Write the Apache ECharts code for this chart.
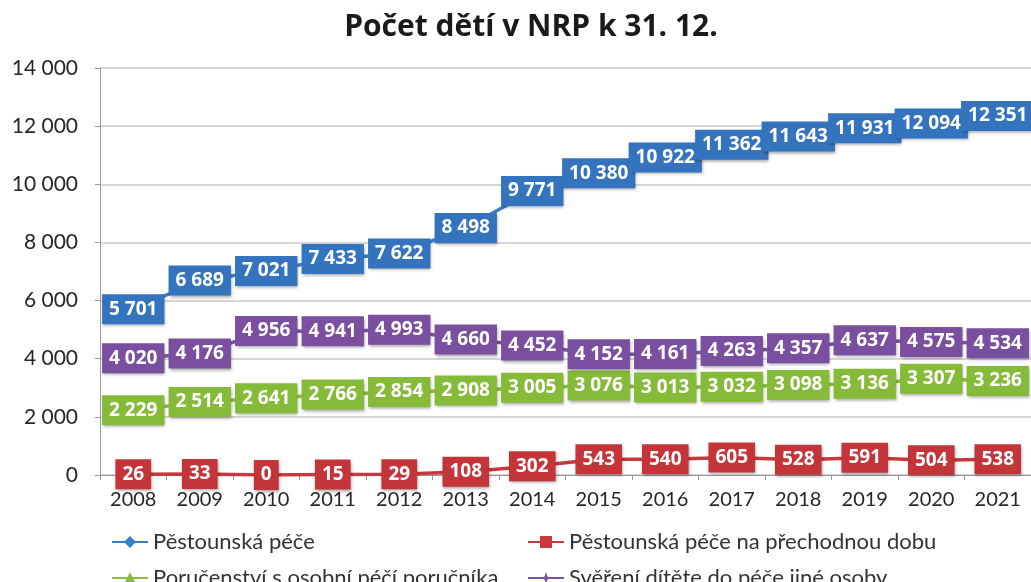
<!DOCTYPE html>
<html><head><meta charset="utf-8">
<script src="https://cdn.jsdelivr.net/npm/echarts@6/dist/echarts.min.js"></script>
<style>html,body{margin:0;padding:0;background:#fff}#c{width:1031px;height:582px}</style>
</head><body><div id="c"></div>
<script>
const categories = ['2008','2009','2010','2011','2012','2013','2014','2015','2016','2017','2018','2019','2020','2021'];
const pestounska = [5701,6689,7021,7433,7622,8498,9771,10380,10922,11362,11643,11931,12094,12351];
const prechodna = [26,33,0,15,29,108,302,543,540,605,528,591,504,538];
const porucenstvi = [2229,2514,2641,2766,2854,2908,3005,3076,3013,3032,3098,3136,3307,3236];
const sverení = [4020,4176,4956,4941,4993,4660,4452,4152,4161,4263,4357,4637,4575,4534];
const names = ['Pěstounská péče','Pěstounská péče na přechodnou dobu','Poručenství s osobní péčí poručníka','Svěření dítěte do péče jiné osoby'];

const fmt = v => String(v).replace(/\B(?=(\d{3})+(?!\d))/g, ' ');
const FONT = 'Lato, "Open Sans", sans-serif';
const STAR = 'path://M50,0 L62,38 L100,50 L62,62 L50,100 L38,62 L0,50 L38,38 Z';

function mk(name, data, color, boxColor, symbol) {
  return {
    name, type: 'line', data, color,
    symbol, symbolSize: 13,
    lineStyle: { width: 3.5, color },
    itemStyle: { color },
    label: {
      show: true, position: 'inside', formatter: p => fmt(p.value),
      color: '#fff', fontFamily: '"Open Sans", sans-serif', fontWeight: 'bold', fontSize: 19, lineHeight: 20,
      backgroundColor: boxColor, padding: [5, 7, 5, 7],
      shadowColor: 'rgba(0,0,0,0.35)', shadowBlur: 3, shadowOffsetX: 1, shadowOffsetY: 2
    },
    animation: false
  };
}

const chart = echarts.init(document.getElementById('c'));
const legendBase = { itemWidth: 36, itemHeight: 15, itemGap: 4, textStyle: { fontFamily: FONT, fontSize: 22, color: '#333' } };
chart.setOption({
  backgroundColor: '#fff',
  title: { text: 'Počet dětí v NRP k 31. 12.', left: 526, textAlign: 'center', top: 7,
    textStyle: { fontFamily: '"Open Sans", sans-serif', fontWeight: 'bold', fontSize: 30, color: '#1a1a1a' } },
  grid: { left: 100, top: 68, width: 934, height: 407, containLabel: false },
  legend: [
    Object.assign({}, legendBase, { data: [names[0]], left: 106, top: 526 }),
    Object.assign({}, legendBase, { data: [names[1]], left: 522, top: 526 }),
    Object.assign({}, legendBase, { data: [names[2]], left: 106, top: 562 }),
    Object.assign({}, legendBase, { data: [names[3]], left: 522, top: 562 })
  ],
  xAxis: {
    type: 'category', data: categories, boundaryGap: true,
    axisLine: { lineStyle: { color: '#999', width: 1 } },
    axisTick: { show: true, length: 5, lineStyle: { color: '#999' } },
    axisLabel: { fontFamily: FONT, fontSize: 20, color: '#262626', margin: 15 }
  },
  yAxis: {
    type: 'value', min: 0, max: 14000, interval: 2000,
    axisLine: { show: true, lineStyle: { color: '#999' } },
    axisTick: { show: true, length: 5, lineStyle: { color: '#999' } },
    splitLine: { lineStyle: { color: '#c8c8c8', width: 1.5 } },
    axisLabel: { fontFamily: FONT, fontSize: 21, color: '#262626', margin: 22, formatter: v => fmt(v) }
  },
  series: [
    mk(names[1], prechodna, '#c9383b', '#c4353a', 'rect'),
    mk(names[2], porucenstvi, '#8cbf3f', '#86bb3a', 'triangle'),
    mk(names[3], sverení, '#7d52a3', '#7a4f9f', STAR),
    mk(names[0], pestounska, '#3a7cc6', '#3474bf', 'diamond')
  ]
});
</script></body></html>
